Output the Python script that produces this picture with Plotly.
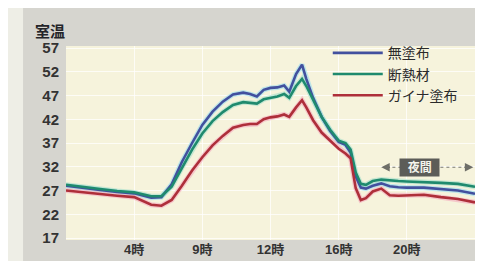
import plotly.graph_objects as go

hours = [0, 1, 2, 3, 4, 5, 5.6, 6.2, 6.8, 7.4, 8, 8.6, 9.2, 9.8, 10.4, 10.8, 11.2, 11.6,
         12, 12.4, 12.8, 13.1, 13.5, 13.85, 14.1, 14.5, 15, 15.5, 16, 16.4, 16.7, 17.0,
         17.3, 17.6, 18.0, 18.5, 19.0, 19.5, 20, 21, 22, 23, 24]

mutofu = [28.0, 27.5, 27.1, 26.7, 26.4, 25.5, 25.6, 28.3, 33.0, 37.0, 40.8, 43.6, 45.7, 47.2,
          47.6, 47.3, 46.8, 48.2, 48.6, 48.7, 49.1, 47.8, 51.5, 53.5, 50.5, 46.5, 42.5, 39.5,
          37.2, 36.6, 35.0, 30.0, 27.6, 27.4, 28.0, 28.5, 27.9, 27.7, 27.6, 27.6, 27.3, 27.0, 26.3]

dannetsu = [28.2, 27.7, 27.3, 26.9, 26.6, 25.8, 25.8, 27.8, 31.8, 35.6, 39.0, 41.6, 43.5, 45.0,
            45.6, 45.5, 45.3, 46.2, 46.5, 46.8, 47.3, 46.5, 49.0, 50.5, 49.0, 46.0, 42.5, 39.8,
            37.5, 37.0, 35.6, 30.8, 28.4, 28.2, 29.0, 29.3, 29.1, 29.0, 28.9, 28.8, 28.6, 28.4, 27.8]

gaina = [27.0, 26.6, 26.2, 25.9, 25.6, 24.0, 23.8, 25.0, 28.0, 31.2, 34.0, 36.5, 38.5, 40.2,
         40.8, 41.0, 41.0, 42.0, 42.4, 42.6, 43.0, 42.5, 44.5, 46.0, 44.5, 41.8, 39.2, 37.5,
         35.8, 34.8, 33.8, 27.5, 25.0, 25.4, 26.8, 27.4, 26.0, 25.9, 26.0, 26.1, 25.6, 25.2, 24.5]

series_names = ["無塗布", "断熱材", "ガイナ塗布"]
series_colors = ["#42509e", "#1f8a6e", "#ae2f3a"]
halo_colors = ["rgba(150,220,240,0.6)", "rgba(150,220,200,0.5)", "rgba(245,170,190,0.6)"]

y_ticks = [17, 22, 27, 32, 37, 42, 47, 52, 57]
x_tickvals = [4, 8, 12, 16, 20]
x_ticktext = ["4時", "9時", "12時", "16時", "20時"]

night_start, night_end, night_level = 18.5, 23.9, 31.9

FONT = "Liberation Sans, Arial, Noto Sans CJK JP, sans-serif"

fig = go.Figure()
for vals, hc in zip([mutofu, dannetsu, gaina], halo_colors):
    fig.add_trace(go.Scatter(x=hours, y=vals, mode="lines", showlegend=False,
                             hoverinfo="skip", line=dict(color=hc, width=5)))
for vals, name, col in zip([mutofu, dannetsu, gaina], series_names, series_colors):
    fig.add_trace(go.Scatter(x=hours, y=vals, mode="lines", name=name,
                             line=dict(color=col, width=2.6)))

# night marker
fig.add_shape(type="line", xref="x", yref="y", x0=night_start + 0.3, x1=night_end - 0.3,
              y0=night_level, y1=night_level, line=dict(color="#7a7a72", width=1.2, dash="dot"))
for xh, xt in [(night_start, night_start + 0.6), (night_end, night_end - 0.6)]:
    fig.add_annotation(x=xh, y=night_level, ax=xt, ay=night_level, axref="x", ayref="y",
                       xref="x", yref="y", text="", showarrow=True, arrowhead=2,
                       arrowsize=1.2, arrowwidth=1.4, arrowcolor="#6e6e68")
fig.add_annotation(x=(night_start + night_end) / 2 - 0.45, y=night_level, xref="x", yref="y",
                   text="<b>&nbsp;&nbsp;夜間&nbsp;&nbsp;</b>", showarrow=False, bgcolor="#5c5c58",
                   font=dict(color="#f4f4ec", size=12, family=FONT), borderpad=1)

# axis title
fig.add_annotation(xref="paper", yref="paper", x=0.0, y=1.0, xanchor="right", yanchor="bottom",
                   xshift=1, yshift=4, text="<b>室温</b>", showarrow=False,
                   font=dict(size=15, color="#25252a", family=FONT))

# outer decorations (light strips around gray panel)
fig.add_shape(type="rect", xref="paper", yref="paper", x0=-0.15, x1=-0.105, y0=-0.2, y1=1.25,
              fillcolor="#eeeee6", line=dict(width=0), layer="above")
fig.add_shape(type="rect", xref="paper", yref="paper", x0=1.012, x1=1.05, y0=-0.2, y1=1.25,
              fillcolor="#e2e1da", line=dict(width=0), layer="above")

fig.update_layout(
    width=483, height=261,
    margin=dict(l=58, r=16, t=38, b=27),
    paper_bgcolor="#d6d5cf",
    plot_bgcolor="#f6f3dc",
    font=dict(family=FONT, size=13, color="#333333"),
    legend=dict(x=0.64, y=1.045, xanchor="left", yanchor="top",
                bgcolor="rgba(0,0,0,0)", font=dict(size=14, color="#2a2a2a", family=FONT),
                itemwidth=50, tracegroupgap=0),
    xaxis=dict(range=[0, 24], tickvals=x_tickvals, ticktext=x_ticktext,
               showgrid=True, gridcolor="rgba(255,255,255,0.75)", gridwidth=1,
               zeroline=False, showline=False, ticks="",
               tickfont=dict(size=13, color="#333333", family=FONT, weight="bold")),
    yaxis=dict(range=[16.58, 57.42], tickvals=y_ticks,
               showgrid=True, gridcolor="rgba(255,255,255,0.75)", gridwidth=1,
               zeroline=False, showline=False, ticks="", ticklabelstandoff=6,
               tickfont=dict(size=15, color="#333333", family=FONT, weight="bold")),
)

fig.write_html("out.html")
